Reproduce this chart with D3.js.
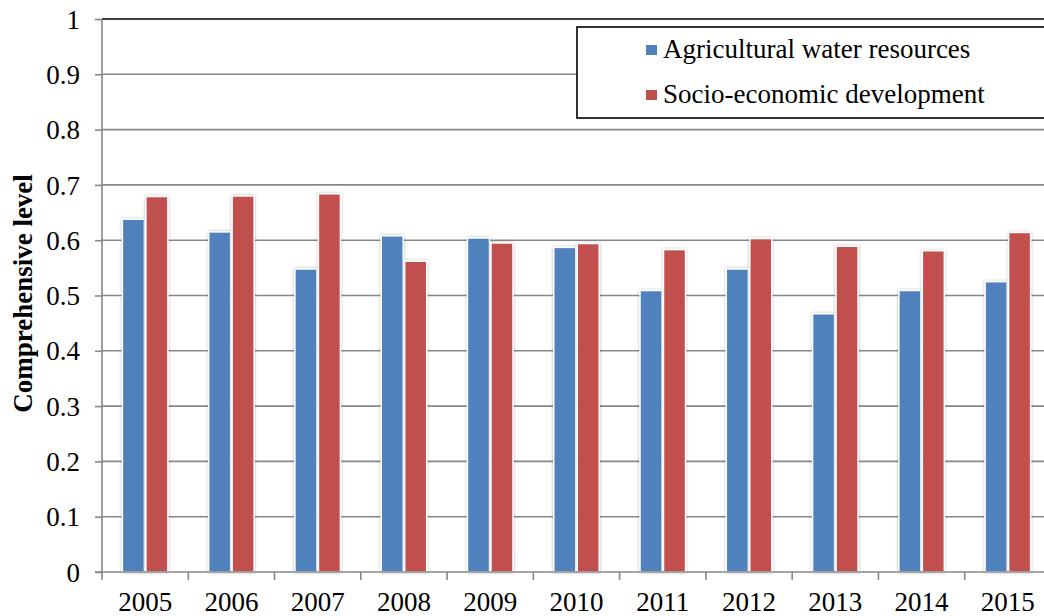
<!DOCTYPE html>
<html>
<head>
<meta charset="utf-8">
<script src="https://cdn.jsdelivr.net/npm/d3@7"></script>
<style>
  html, body { margin: 0; padding: 0; background: #fff; }
  svg { display: block; font-family: "Liberation Serif", "Times New Roman", serif; }
</style>
</head>
<body>
<svg id="chart" width="1044" height="616"></svg>
<script>
// Comprehensive level by year for the two subsystems
const years = ["2005","2006","2007","2008","2009","2010","2011","2012","2013","2014","2015"];
const seriesNames = ["Agricultural water resources", "Socio-economic development"];
const waterValues = [0.638, 0.615, 0.548, 0.608, 0.604, 0.587, 0.509, 0.548, 0.467, 0.509, 0.525];
const socioValues = [0.679, 0.680, 0.684, 0.562, 0.595, 0.594, 0.583, 0.603, 0.589, 0.581, 0.614];
const yTicks = [0, 0.1, 0.2, 0.3, 0.4, 0.5, 0.6, 0.7, 0.8, 0.9, 1];
const colors = ["#4F81BD", "#C0504D"];

const svg = d3.select("#chart");
const margin = { left: 102, top: 19, bottom: 44 };
const plotRight = 1051;
const height = 616;
const fontSize = 27;

const x = d3.scaleBand().domain(years).range([margin.left, plotRight]).paddingInner(0).paddingOuter(0);
const xSub = d3.scaleBand().domain(seriesNames).range([0, x.bandwidth()]).paddingInner(0).paddingOuter(0.836);
const y = d3.scaleLinear().domain([0, 1]).range([height - margin.bottom, margin.top]);

// soft drop shadow for bars
const defs = svg.append("defs");
const f = defs.append("filter").attr("id", "shadow").attr("x", "-30%").attr("y", "-10%").attr("width", "160%").attr("height", "130%");
f.append("feGaussianBlur").attr("in", "SourceAlpha").attr("stdDeviation", 1.6).attr("result", "b");
f.append("feComponentTransfer").attr("in", "b").attr("result", "s")
  .append("feFuncA").attr("type", "linear").attr("slope", 0.3);
const m = f.append("feMerge");
m.append("feMergeNode").attr("in", "s");
m.append("feMergeNode").attr("in", "SourceGraphic");

// horizontal gridlines
svg.append("g")
  .selectAll("line")
  .data(yTicks.filter(t => t > 0 && t < 1))
  .join("line")
  .attr("x1", margin.left).attr("x2", plotRight)
  .attr("y1", d => y(d)).attr("y2", d => y(d))
  .attr("stroke", "#878787").attr("stroke-width", 1.6);

// top border of plot area
svg.append("line")
  .attr("x1", margin.left).attr("x2", plotRight)
  .attr("y1", y(1)).attr("y2", y(1))
  .attr("stroke", "#000").attr("stroke-width", 1.6);

// bars
const rows = years.map((yr, i) => ({ year: yr, values: [waterValues[i], socioValues[i]] }));
const groups = svg.append("g")
  .selectAll("g")
  .data(rows)
  .join("g")
  .attr("transform", d => `translate(${x(d.year)},0)`);
groups.selectAll("rect")
  .data(d => d.values.map((v, k) => ({ name: seriesNames[k], value: v, k })))
  .join("rect")
  .attr("x", d => xSub(d.name) + 0.75)
  .attr("width", xSub.bandwidth() - 1.5)
  .attr("y", d => y(d.value))
  .attr("height", d => y(0) - y(d.value))
  .attr("fill", d => colors[d.k])
  .attr("stroke", "#fff").attr("stroke-width", 1.5)
  .attr("filter", "url(#shadow)");

// y axis
const yAxis = d3.axisLeft(y).tickValues(yTicks).tickSize(7).tickPadding(15)
  .tickFormat(d => d === 0 || d === 1 ? d3.format("d")(d) : d3.format(".1f")(d));
const gy = svg.append("g").attr("transform", `translate(${margin.left},0)`).call(yAxis)
  .attr("font-family", "Liberation Serif").attr("font-size", fontSize);
gy.select(".domain").attr("stroke", "#878787").attr("stroke-width", 1.6).attr("d", `M0,${y(0)}V${y(1)}`);
gy.selectAll(".tick line").attr("stroke", "#878787").attr("stroke-width", 1.6);
gy.selectAll(".tick text").attr("fill", "#000").attr("dy", "0.34em");

// x axis with ticks at category boundaries
svg.append("line")
  .attr("x1", margin.left - 7).attr("x2", plotRight)
  .attr("y1", y(0)).attr("y2", y(0))
  .attr("stroke", "#878787").attr("stroke-width", 1.6);
svg.append("g")
  .selectAll("line")
  .data(years.concat(["end"]))
  .join("line")
  .attr("x1", (d, i) => i < years.length ? x(d) : x(years[years.length - 1]) + x.bandwidth())
  .attr("x2", (d, i) => i < years.length ? x(d) : x(years[years.length - 1]) + x.bandwidth())
  .attr("y1", y(0)).attr("y2", y(0) + 8)
  .attr("stroke", "#878787").attr("stroke-width", 1.6);
svg.append("g")
  .selectAll("text")
  .data(years)
  .join("text")
  .attr("x", d => x(d) + x.bandwidth() / 2)
  .attr("y", 611)
  .attr("text-anchor", "middle")
  .attr("font-size", fontSize)
  .text(d => d);

// y axis title
svg.append("text")
  .attr("transform", `translate(32,${(y(0) + y(1)) / 2 - 2}) rotate(-90)`)
  .attr("text-anchor", "middle")
  .attr("font-size", fontSize)
  .attr("font-weight", "bold")
  .text("Comprehensive level");

// legend
const legend = svg.append("g");
legend.append("rect")
  .attr("x", 577).attr("y", 27).attr("width", 480).attr("height", 91)
  .attr("fill", "#fff").attr("stroke", "#000").attr("stroke-width", 1.6);
const items = legend.selectAll("g.item")
  .data(seriesNames)
  .join("g").attr("class", "item")
  .attr("transform", (d, i) => `translate(646,${50 + i * 45})`);
items.append("rect")
  .attr("x", 0).attr("y", -5).attr("width", 11).attr("height", 10)
  .attr("fill", (d, i) => colors[i]);
items.append("text")
  .attr("x", 17).attr("y", 8)
  .attr("font-size", fontSize)
  .text(d => d);
</script>
</body>
</html>
